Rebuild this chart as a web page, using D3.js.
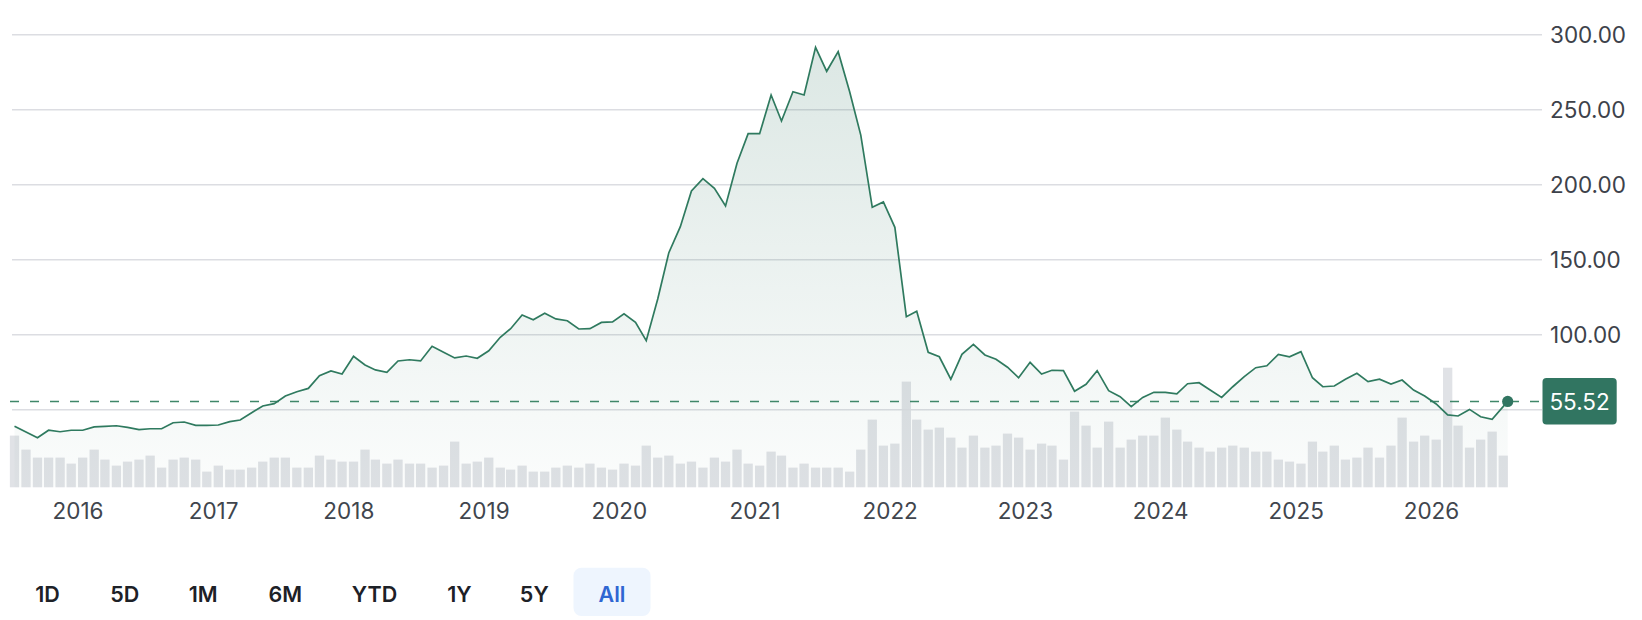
<!DOCTYPE html>
<html>
<head>
<meta charset="utf-8">
<script src="https://cdn.jsdelivr.net/npm/d3@7"></script>
<style>
  html, body { margin: 0; padding: 0; background: #ffffff; }
  svg { display: block; font-family: "Inter", "Noto Sans", sans-serif; }
</style>
</head>
<body>
<svg id="chart" width="1642" height="620"></svg>
<script>
// ---- DATA ----
const firstMonth = "2015-07-15";          // first monthly observation
const lastPointDate = "2026-07-27";       // latest quote
const lastPrice = 55.52;

const prices = [
  38.9, 35.1, 31.3, 36.3, 35.3, 36.3, 36.3, 38.5, 38.9, 39.3,
  38.2, 36.7, 37.3, 37.3, 41.3, 41.8, 39.6, 39.6, 39.8, 42.0,
  43.1, 48.0, 52.5, 54.0, 59.1, 62.0, 64.2, 72.7, 75.8, 73.8,
  85.6, 79.8, 76.5, 74.9, 82.5, 83.3, 82.5, 92.3, 88.3, 84.5,
  85.8, 84.3, 89.3, 98.3, 104.0, 113.1, 110.0, 114.3, 110.5, 109.3,
  103.8, 104.0, 108.2, 108.5, 114.0, 108.2, 96.0, 123.8, 154.7, 172.0,
  195.8, 204.0, 197.6, 185.8, 214.3, 234.0, 234.0, 259.8, 242.5, 262.0,
  259.8, 291.6, 275.6, 288.7, 262.0, 233.1, 184.9, 188.5, 171.6, 112.0,
  115.6, 88.3, 85.3, 70.3, 86.9, 93.6, 86.5, 83.6, 78.3, 71.3,
  81.6, 73.8, 76.3, 76.0, 62.3, 66.9, 76.0, 62.7, 58.7, 52.0,
  58.2, 61.6, 61.6, 60.5, 67.3, 68.0, 63.1, 58.2, 65.3, 72.0,
  78.0, 79.3, 86.9, 85.3, 88.7, 71.3, 65.3, 65.8, 70.3, 74.3,
  68.7, 70.3, 67.1, 69.8, 63.1, 59.1, 53.8, 46.5, 45.8, 50.2,
  45.3, 43.6, 55.52
];

const volumes = [
  51.7, 37.7, 29.7, 29.7, 29.7, 23.7, 29.7, 37.7, 27.7, 21.7,
  25.7, 27.7, 31.7, 19.7, 27.7, 29.7, 27.7, 15.7, 21.7, 17.7,
  17.7, 19.7, 25.7, 29.7, 29.7, 19.7, 19.7, 31.7, 27.7, 25.7,
  25.7, 37.7, 27.7, 23.7, 27.7, 23.7, 23.7, 19.7, 21.7, 45.7,
  23.7, 25.7, 29.7, 19.7, 17.7, 21.7, 15.7, 15.7, 19.7, 21.7,
  19.7, 23.7, 19.7, 17.7, 23.7, 21.7, 41.7, 29.7, 31.7, 23.7,
  25.7, 19.7, 29.7, 25.7, 37.7, 23.7, 21.7, 35.7, 31.7, 19.7,
  23.7, 19.7, 19.7, 19.7, 15.7, 37.7, 67.7, 41.7, 43.7, 105.7,
  67.7, 57.7, 59.7, 49.7, 39.7, 51.7, 39.7, 41.7, 53.7, 49.7,
  37.7, 43.7, 41.7, 27.7, 75.7, 61.7, 39.7, 65.7, 39.7, 47.7,
  51.7, 51.7, 69.7, 57.7, 45.7, 39.7, 35.7, 39.7, 41.7, 39.7,
  35.7, 35.7, 27.7, 25.7, 23.7, 45.7, 35.7, 41.7, 27.7, 29.7,
  39.7, 29.7, 41.7, 69.7, 45.7, 51.7, 47.7, 119.6, 61.7, 39.7,
  47.7, 55.7, 31.7
];

const gridTicks = [50, 100, 150, 200, 250, 300];
const yLabelTicks = [100, 150, 200, 250, 300];   // 50.00 is hidden behind the price badge
const xTickYears = [2016, 2017, 2018, 2019, 2020, 2021, 2022, 2023, 2024, 2025, 2026];
const ranges = ["1D", "5D", "1M", "6M", "YTD", "1Y", "5Y", "All"];
const activeRange = "All";

// ---- SETUP ----
const parse = d3.utcParse("%Y-%m-%d");
const start = parse(firstMonth);
const monthDates = volumes.map((_, i) => d3.utcMonth.offset(start, i));
const lineDates = prices.map((_, i) => i === prices.length - 1 ? parse(lastPointDate) : monthDates[i]);

const svg = d3.select("#chart");
const green = "#317561";

const x = d3.scaleUtc()
  .domain([Date.UTC(2016, 0, 1), Date.UTC(2026, 0, 1)])
  .range([77.5, 1431]);
const y = d3.scaleLinear().domain([100, 300]).range([334.7, 34.7]);
const yVol = d3.scaleLinear().domain([0, 120]).range([487.3, 367.3]);

const gridLeft = 12, gridRight = 1542;

// ---- VOLUME BARS ----
const barW = 9.3;
svg.append("g").selectAll("rect").data(volumes).join("rect")
  .attr("x", (d, i) => x(monthDates[i]) - barW / 2)
  .attr("y", d => yVol(d))
  .attr("width", barW)
  .attr("height", d => yVol(0) - yVol(d))
  .attr("fill", "#e0e2e6");

// ---- GRID ----
svg.append("g").selectAll("line").data(gridTicks).join("line")
  .attr("x1", gridLeft).attr("x2", gridRight)
  .attr("y1", d => y(d)).attr("y2", d => y(d))
  .attr("stroke", "#dcdde2").attr("stroke-width", 1.5);

// ---- AREA ----
const defs = svg.append("defs");
const grad = defs.append("linearGradient").attr("id", "areaGrad")
  .attr("gradientUnits", "userSpaceOnUse")
  .attr("x1", 0).attr("x2", 0).attr("y1", y(d3.max(prices))).attr("y2", yVol(0));
grad.append("stop").attr("offset", "0%").attr("stop-color", green).attr("stop-opacity", 0.17);
grad.append("stop").attr("offset", "100%").attr("stop-color", green).attr("stop-opacity", 0.02);

const pts = prices.map((p, i) => [lineDates[i], p]);
svg.append("path").datum(pts)
  .attr("fill", "url(#areaGrad)")
  .attr("d", d3.area().x(d => x(d[0])).y0(yVol(0)).y1(d => y(d[1])));

// ---- CURRENT PRICE DASHED LINE ----
svg.append("line")
  .attr("x1", 10).attr("x2", gridRight)
  .attr("y1", y(lastPrice)).attr("y2", y(lastPrice))
  .attr("stroke", "#3f8769").attr("stroke-width", 1.5)
  .attr("stroke-dasharray", "9,11");

// ---- LINE ----
svg.append("path").datum(pts)
  .attr("fill", "none").attr("stroke", "#2f7a5f").attr("stroke-width", 1.7)
  .attr("stroke-linejoin", "miter")
  .attr("d", d3.line().x(d => x(d[0])).y(d => y(d[1])));

svg.append("circle")
  .attr("cx", x(lineDates[lineDates.length - 1])).attr("cy", y(lastPrice))
  .attr("r", 5.6).attr("fill", green);

// ---- Y AXIS ----
const yAxis = svg.append("g").attr("transform", `translate(${gridRight},0)`)
  .call(d3.axisRight(y).tickValues(yLabelTicks).tickSize(0).tickPadding(8).tickFormat(d3.format(".2f")));
yAxis.select(".domain").remove();
yAxis.selectAll("text")
  .attr("font-family", "Inter, sans-serif").attr("font-size", 22.5)
  .attr("fill", "#3d424a").attr("dy", "0.36em");

// ---- PRICE BADGE ----
const badge = svg.append("g").attr("transform", `translate(1542.5, ${y(lastPrice) - 23.3})`);
badge.append("rect").attr("width", 74.2).attr("height", 46.4).attr("rx", 4).attr("fill", green);
badge.append("text").attr("x", 37.1).attr("y", 23.3).attr("dy", "0.36em")
  .attr("text-anchor", "middle").attr("fill", "#ffffff")
  .attr("font-size", 22.5).text(d3.format(".2f")(lastPrice));

// ---- X AXIS ----
const xAxis = svg.append("g").attr("transform", "translate(0,502.7)")
  .call(d3.axisBottom(x).tickValues(xTickYears.map(yr => new Date(Date.UTC(yr, 0, 1))))
    .tickSize(0).tickPadding(0).tickFormat(d3.utcFormat("%Y")));
xAxis.select(".domain").remove();
xAxis.selectAll("text")
  .attr("font-family", "Inter, sans-serif").attr("font-size", 22.5).attr("fill", "#40454d");

// ---- RANGE BUTTONS ----
const btnCenters = [47.6, 124.7, 203.2, 285.3, 374.5, 459.5, 534.3, 612];
const btnX = d3.scaleOrdinal().domain(ranges).range(btnCenters);
const btns = svg.append("g");
btns.append("rect")
  .attr("x", btnX(activeRange) - 38.5).attr("y", 567.7)
  .attr("width", 77).attr("height", 48.3).attr("rx", 8)
  .attr("fill", "#eef5fe");
btns.selectAll("text").data(ranges).join("text")
  .attr("x", d => btnX(d)).attr("y", 593.8).attr("dy", "0.36em")
  .attr("text-anchor", "middle")
  .attr("font-size", 21.5).attr("font-weight", 600)
  .attr("fill", d => d === activeRange ? "#2f66d2" : "#1d2127")
  .text(d => d);
</script>
</body>
</html>
